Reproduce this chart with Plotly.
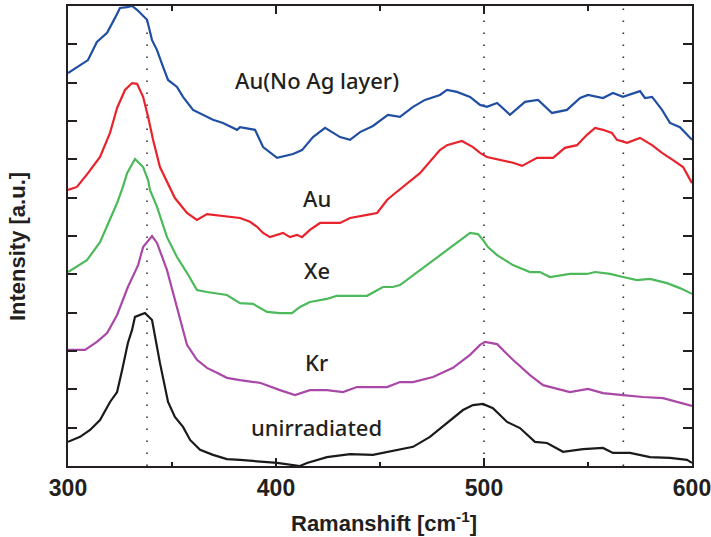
import plotly.graph_objects as go

# Raman spectra, offset vertically (arbitrary intensity units)
x_au_noag = [300, 305.8, 309.6, 313.9, 318.8, 322.6, 325.0, 328.4, 330.8, 333.2, 338.0, 340.4, 342.8,
             345.7, 348.1, 352.4, 355.3, 360.1, 364.9, 369.7, 374.5, 381.3, 382.7, 389.9, 393.8, 400.5,
             408.2, 412.5, 417.8, 423.6, 430.8, 435.6, 440.4, 446.6, 453.8, 459.6, 465.9, 471.6, 478.8,
             482.2, 487.0, 493.3, 498.1, 501.4, 506.3, 512.5, 519.7, 526.0, 532.7, 539.9, 546.2, 550.0,
             557.2, 562.0, 566.8, 571.6, 575.0, 577.4, 580.8, 585.6, 589.4, 594.2, 600.0]
y_au_noag = [10.25, 10.46, 10.59, 11.06, 11.30, 11.69, 11.95, 11.97, 12.00, 11.90, 11.64, 11.11, 10.85,
             10.41, 10.07, 9.89, 9.63, 9.29, 9.16, 9.03, 8.95, 8.77, 8.84, 8.77, 8.32, 8.04,
             8.14, 8.24, 8.58, 8.82, 8.58, 8.51, 8.71, 8.87, 9.16, 9.11, 9.37, 9.55, 9.68,
             9.81, 9.76, 9.63, 9.42, 9.37, 9.47, 9.16, 9.50, 9.55, 9.21, 9.29, 9.60, 9.68,
             9.60, 9.73, 9.63, 9.73, 9.78, 9.60, 9.63, 9.29, 8.95, 8.84, 8.51]

x_au = [300, 304.3, 309.6, 315.4, 320.2, 323.6, 327.4, 330.8, 333.2, 336.1, 338.5, 340.9, 344.2,
        349.0, 351.4, 357.2, 362.0, 366.8, 376.4, 382.7, 387.5, 390.9, 393.8, 397.1, 403.4, 406.7,
        410.1, 412.5, 416.3, 421.2, 430.8, 435.6, 443.8, 448.6, 453.4, 456.2, 469.2, 478.8, 482.2,
        489.4, 494.7, 498.1, 501.4, 507.7, 513.9, 518.3, 525.5, 533.2, 538.9, 544.7, 549.5, 553.4,
        557.2, 561.5, 563.9, 568.8, 575.0, 580.8, 585.6, 590.9, 595.7, 600.0]
y_au = [7.20, 7.28, 7.64, 8.06, 8.69, 9.34, 9.81, 9.99, 9.97, 9.63, 9.11, 8.51, 7.80,
        7.28, 6.99, 6.60, 6.42, 6.57, 6.50, 6.47, 6.37, 6.24, 6.08, 5.97, 6.08, 5.97,
        6.03, 5.97, 6.16, 6.34, 6.34, 6.47, 6.55, 6.60, 6.94, 7.07, 7.64, 8.24, 8.37,
        8.48, 8.32, 8.17, 8.06, 7.98, 7.91, 7.83, 8.04, 8.04, 8.30, 8.37, 8.64, 8.82,
        8.77, 8.69, 8.51, 8.43, 8.56, 8.37, 8.17, 7.98, 7.80, 7.38]

x_xe = [300, 309.1, 315.4, 320.2, 323.6, 326.4, 328.4, 332.2, 336.1, 338.5, 339.4, 342.8, 347.6,
        352.4, 357.2, 362.0, 366.8, 376.4, 382.7, 388.9, 395.7, 401.9, 407.7, 411.5, 416.3, 424.5,
        429.3, 437.0, 443.8, 451.4, 456.2, 459.6, 469.2, 478.8, 488.5, 493.3, 497.1, 499.5, 501.9,
        506.3, 513.9, 522.1, 526.9, 531.7, 541.3, 549.5, 553.4, 560.6, 566.8, 573.6, 579.8, 588.0,
        594.2, 600.0]
y_xe = [5.06, 5.37, 5.84, 6.42, 6.86, 7.28, 7.64, 8.01, 7.80, 7.46, 7.20, 6.76, 5.97,
        5.45, 5.04, 4.59, 4.54, 4.46, 4.25, 4.23, 4.02, 3.99, 3.99, 4.15, 4.28, 4.36,
        4.44, 4.44, 4.44, 4.67, 4.67, 4.72, 5.11, 5.50, 5.90, 6.08, 6.05, 5.90, 5.71,
        5.50, 5.24, 5.06, 5.06, 4.93, 5.01, 5.01, 5.06, 5.01, 4.93, 4.85, 4.88, 4.77,
        4.64, 4.49]

x_kr = [300, 308.2, 313.9, 318.8, 323.6, 328.8, 333.7, 336.1, 340.4, 342.8, 347.6, 352.4, 357.2,
        362.0, 366.8, 371.6, 376.4, 382.7, 392.3, 401.9, 409.1, 416.3, 424.5, 432.2, 438.9, 446.6,
        453.4, 459.6, 465.9, 475.5, 485.1, 493.3, 498.1, 500.5, 506.3, 513.9, 522.1, 528.4, 541.3,
        550.0, 557.2, 566.8, 576.4, 586.1, 592.8, 600.0]
y_kr = [3.03, 3.03, 3.24, 3.47, 3.94, 4.67, 5.24, 5.71, 6.00, 5.82, 5.11, 4.15, 3.16,
        2.77, 2.56, 2.43, 2.30, 2.24, 2.17, 1.98, 1.85, 1.98, 1.98, 1.93, 2.06, 2.06,
        2.06, 2.19, 2.19, 2.32, 2.56, 2.90, 3.16, 3.24, 3.18, 2.77, 2.37, 2.11, 1.93,
        2.01, 1.90, 1.85, 1.80, 1.77, 1.67, 1.57]

x_unirr = [300, 305.8, 310.6, 315.4, 320.2, 323.6, 326.0, 328.8, 330.8, 332.2, 337.0, 340.4, 344.2,
           348.1, 351.4, 355.3, 358.7, 363.5, 369.7, 376.4, 382.7, 390.9, 400.5, 411.5, 414.9, 424.5,
           435.6, 446.6, 451.4, 458.2, 465.9, 474.0, 482.2, 489.9, 494.7, 499.5, 504.3, 511.1, 517.3,
           524.5, 530.3, 538.0, 547.6, 557.2, 562.0, 570.2, 579.8, 589.4, 597.6, 600.0]
y_unirr = [0.63, 0.76, 0.94, 1.20, 1.67, 1.93, 2.50, 3.21, 3.55, 3.89, 3.99, 3.81, 2.69,
           1.67, 1.28, 1.02, 0.68, 0.42, 0.29, 0.18, 0.16, 0.13, 0.08, 0.00, 0.08, 0.23,
           0.31, 0.29, 0.34, 0.42, 0.50, 0.76, 1.12, 1.46, 1.59, 1.62, 1.51, 1.15, 0.99,
           0.63, 0.60, 0.37, 0.44, 0.47, 0.34, 0.34, 0.23, 0.21, 0.16, 0.08]

series = [
    ("Au(No Ag layer)", x_au_noag, y_au_noag, "#1f4ea3"),
    ("Au", x_au, y_au, "#e8232b"),
    ("Xe", x_xe, y_xe, "#4cb95a"),
    ("Kr", x_kr, y_kr, "#a948a6"),
    ("unirradiated", x_unirr, y_unirr, "#1a1a1a"),
]

# label positions (x, y) in data units
label_pos = {
    "Au(No Ag layer)": (419.7, 10.07),
    "Au": (419.7, 6.99),
    "Xe": (419.7, 5.11),
    "Kr": (419.7, 2.71),
    "unirradiated": (419.7, 1.02),
}

# reference peak positions (dotted guides)
guide_x = [338, 500, 567]

AXIS_COLOR = "#231f20"

fig = go.Figure()
for name, xs, ys, color in series:
    fig.add_trace(go.Scatter(x=xs, y=ys, mode="lines", name=name,
                             line=dict(color=color, width=2.2), showlegend=False))

for gx in guide_x:
    fig.add_shape(type="line", xref="x", yref="paper", x0=gx, x1=gx, y0=0, y1=1,
                  line=dict(color="#333333", width=1.6, dash="1.5px,10.5px"), layer="below")

for name, (lx, ly) in label_pos.items():
    fig.add_annotation(x=lx, y=ly, text=name, showarrow=False, xanchor="center", yanchor="middle",
                       font=dict(family="Noto Sans", size=22, color=AXIS_COLOR, weight=500))

fig.add_annotation(xref="paper", yref="paper", x=0.506, y=0, yshift=-56, showarrow=False,
                   text="Ramanshift [cm<sup>-1</sup>]", xanchor="center", yanchor="middle",
                   font=dict(family="Liberation Sans", size=22, color=AXIS_COLOR, weight="bold"))
fig.add_annotation(xref="paper", yref="paper", x=0, xshift=-51, y=0.476, showarrow=False,
                   text="Intensity [a.u.]", textangle=-90, xanchor="center", yanchor="middle",
                   font=dict(family="Liberation Sans", size=22, color=AXIS_COLOR, weight="bold"))

fig.update_xaxes(range=[300, 600], tickvals=[300, 400, 500, 600], ticktext=["300", "400", "500", "600"],
                 ticks="inside", ticklen=8, tickwidth=1.5, tickcolor=AXIS_COLOR,
                 ticklabeloverflow="allow", automargin=False,
                 minor=dict(ticks="inside", ticklen=4.5, tickwidth=1.5, tickcolor=AXIS_COLOR,
                            tickvals=[350, 450, 550], showgrid=False),
                 showline=True, linewidth=2, linecolor=AXIS_COLOR, mirror="ticks",
                 showgrid=False, zeroline=False,
                 tickfont=dict(family="Liberation Sans", size=23, color=AXIS_COLOR, weight="bold"))
fig.update_yaxes(range=[0, 12], dtick=1, tick0=0, showticklabels=False, automargin=False,
                 ticks="inside", ticklen=9, tickwidth=1.5, tickcolor=AXIS_COLOR,
                 showline=True, linewidth=2, linecolor=AXIS_COLOR, mirror="ticks",
                 showgrid=False, zeroline=False)

fig.update_layout(width=711, height=537, margin=dict(l=68, r=19, t=6, b=71),
                  paper_bgcolor="white", plot_bgcolor="white")

fig.write_html("out.html")
